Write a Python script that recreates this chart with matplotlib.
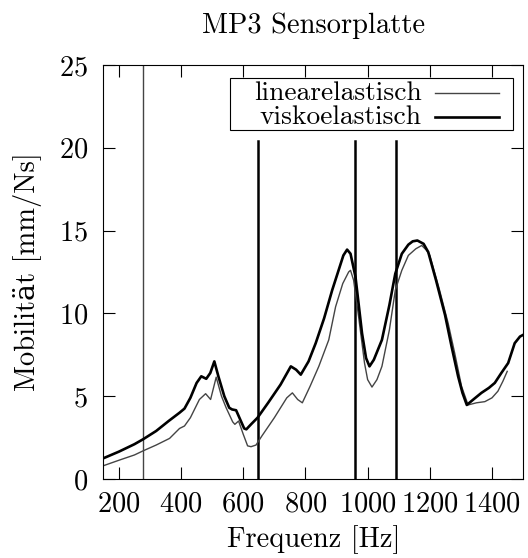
import matplotlib
matplotlib.use("Agg")
import matplotlib.pyplot as plt
from matplotlib.patches import Rectangle

plt.rcParams['font.family'] = ['cmr10', 'DejaVu Serif']
plt.rcParams['axes.formatter.use_mathtext'] = True
plt.rcParams['mathtext.fontset'] = 'cm'

title = "MP3 Sensorplatte"
xlabel = "Frequenz [Hz]"
ylabel = "Mobilität [mm/Ns]"
series_names = ["linearelastisch", "viskoelastisch"]

# linearelastisch (thin)
lin_f = [150, 203, 250, 278, 320, 363, 395, 411, 430, 459, 479, 495, 513, 530, 545,
         566, 573, 585, 600, 614, 625, 641, 660, 700, 740, 758, 775, 790, 815, 843,
         875, 897, 920, 939, 945, 955, 971, 990, 1000, 1014, 1030, 1046, 1070, 1089,
         1110, 1131, 1155, 1174, 1190, 1200, 1230, 1259, 1280, 1302, 1323, 1350,
         1377, 1400, 1419, 1435, 1449]
lin_v = [0.8, 1.15, 1.45, 1.7, 2.05, 2.45, 3.05, 3.2, 3.7, 4.8, 5.15, 4.8, 6.15, 5.0, 4.3,
         3.45, 3.3, 3.5, 2.7, 2.0, 1.95, 2.05, 2.6, 3.7, 4.9, 5.2, 4.8, 4.6, 5.6, 6.8,
         8.4, 10.4, 11.8, 12.5, 12.6, 12.0, 9.8, 7.0, 6.0, 5.55, 6.0, 6.8, 9.0, 11.4,
         12.6, 13.5, 13.9, 14.1, 13.8, 13.5, 11.5, 9.4, 7.6, 5.6, 4.47, 4.6,
         4.67, 4.9, 5.3, 5.9, 6.5]

# viskoelastisch (thick)
visk_f = [150, 200, 250, 278, 320, 360, 395, 411, 430, 450, 465, 481, 494, 507, 520,
          539, 555, 564, 577, 590, 603, 610, 625, 646, 680, 720, 753, 770, 785, 810,
          833, 860, 886, 910, 922, 934, 945, 961, 982, 995, 1006, 1020, 1046, 1070,
          1089, 1110, 1131, 1145, 1160, 1180, 1195, 1220, 1249, 1270, 1291, 1305, 1319,
          1340, 1366, 1390, 1409, 1430, 1452, 1473, 1490, 1500]
visk_v = [1.25, 1.65, 2.1, 2.4, 2.9, 3.5, 4.0, 4.25, 4.9, 5.8, 6.2, 6.05, 6.4, 7.1, 6.2,
          5.0, 4.3, 4.2, 4.15, 3.6, 3.05, 3.0, 3.3, 3.7, 4.6, 5.7, 6.8, 6.6, 6.3, 7.1,
          8.2, 9.7, 11.4, 12.8, 13.5, 13.85, 13.6, 12.2, 8.8, 7.3, 6.8, 7.2, 8.4, 10.5,
          12.4, 13.6, 14.15, 14.35, 14.4, 14.2, 13.7, 12.0, 9.9, 8.0, 6.2, 5.2, 4.47,
          4.8, 5.2, 5.5, 5.8, 6.4, 7.0, 8.2, 8.6, 8.7]

thin_vline_f = [278]
thick_vline_f = [648, 958, 1090]
thick_vline_top = 20.4

FS = 20.5
LFS = 19.8

fig = plt.figure(figsize=(5.28, 5.58), dpi=100)
ax = fig.add_axes([0.1957, 0.1416, 0.795, 0.742])

thin_col = '#444444'
thin_lw = 1.0
thick_lw = 1.9
for f in thin_vline_f:
    ax.axvline(f, color=thin_col, lw=thin_lw)
for f in thick_vline_f:
    ax.plot([f, f], [0, thick_vline_top], color='black', lw=1.8)

ax.plot(lin_f, lin_v, color=thin_col, lw=thin_lw)
ax.plot(visk_f, visk_v, color='black', lw=thick_lw)

ax.set_xlim(150, 1500)
ax.set_ylim(0, 25)
ax.set_xticks([200, 400, 600, 800, 1000, 1200, 1400])
ax.set_yticks([0, 5, 10, 15, 20, 25])
ax.tick_params(direction='in', length=8.6, width=0.8, top=True, right=True,
               labelsize=FS)
ax.tick_params(axis='x', pad=9)
ax.tick_params(axis='y', pad=11)
for s in ax.spines.values():
    s.set_linewidth(0.8)

ax.set_title(title, fontsize=FS, pad=23)
ax.set_xlabel(xlabel, fontsize=FS, labelpad=5)
ax.set_ylabel(ylabel, fontsize=FS, labelpad=12)

# gnuplot-style key: right-aligned text followed by line sample
T = ax.transAxes
ax.add_patch(Rectangle((0.302, 0.843), 0.976 - 0.302, 0.9686 - 0.843, transform=T,
                       facecolor='white', edgecolor='black', lw=0.8, zorder=5))
rows_y = [0.932, 0.874]
styles = [(thin_col, thin_lw), ('black', thick_lw)]
for name, yy, (c, lw) in zip(series_names, rows_y, styles):
    ax.text(0.759, yy, name, transform=T, ha='right', va='center',
            fontsize=LFS, zorder=6)
    ax.plot([0.790, 0.943], [yy, yy], transform=T, color=c, lw=lw, zorder=6)

fig.savefig('out.png', dpi=100)
